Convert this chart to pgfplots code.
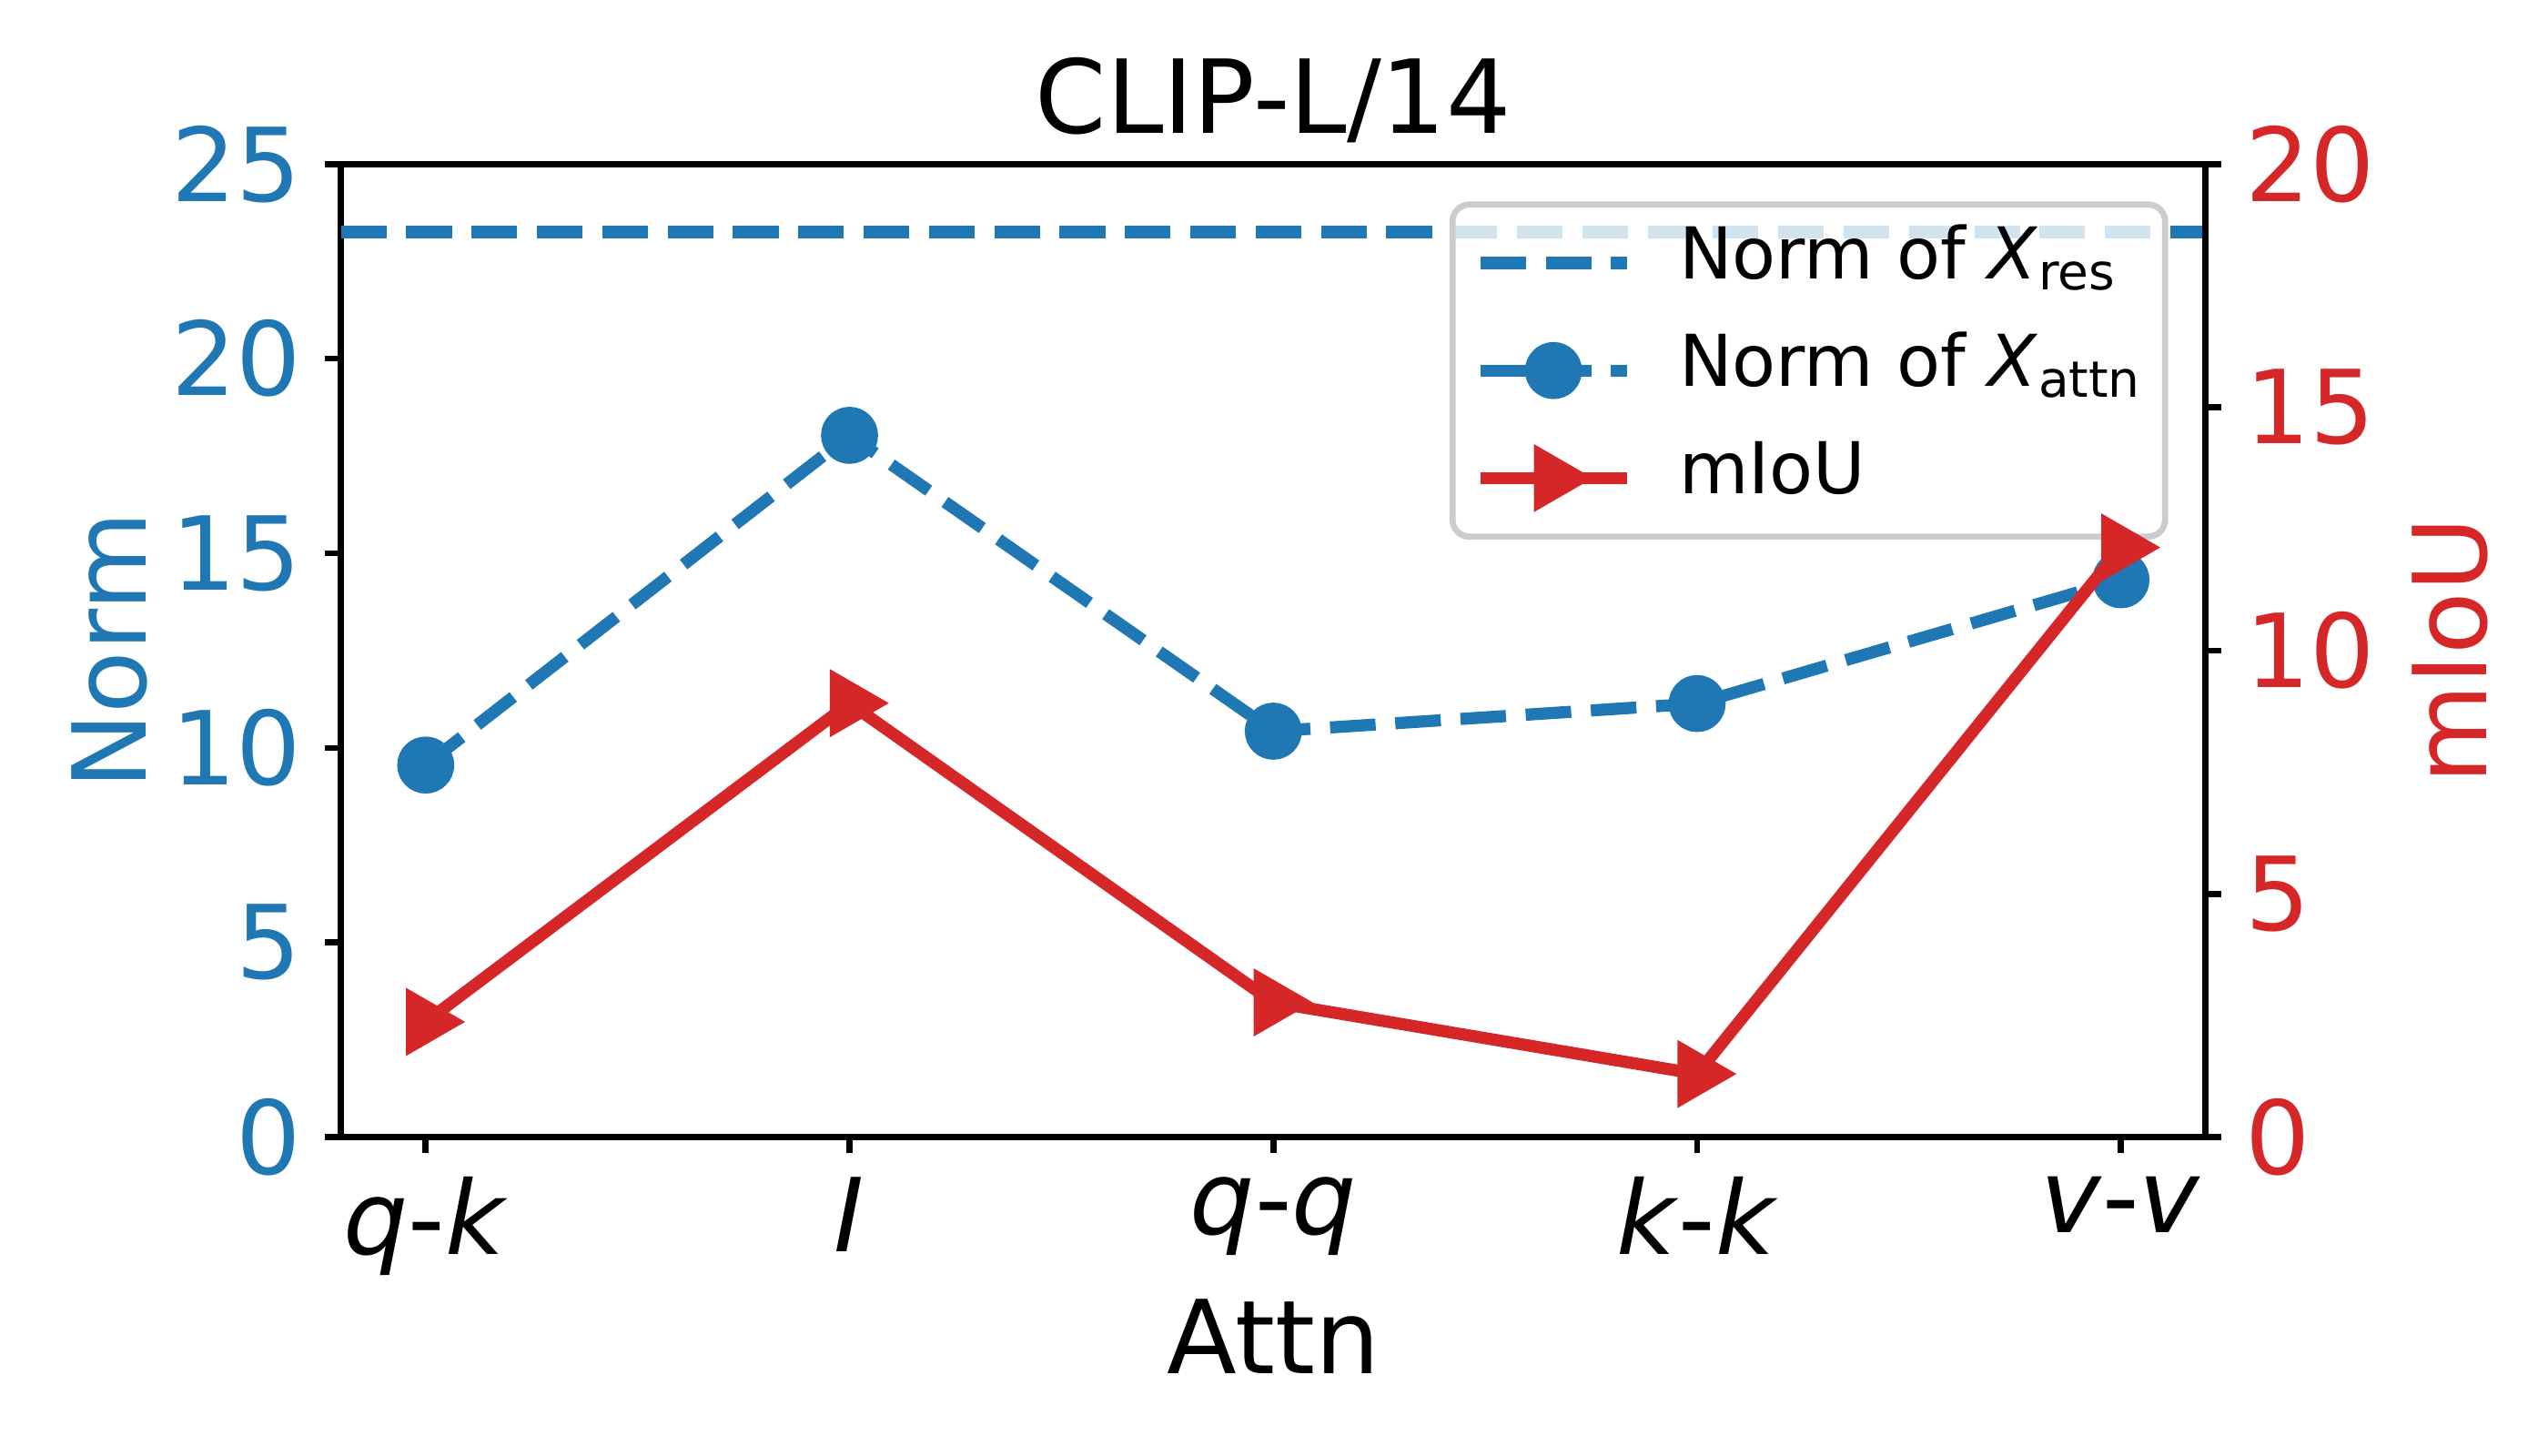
\documentclass[border=0pt]{standalone}
\usepackage{fontspec}
\setmainfont{DejaVu Sans}
\usepackage{pgfplots}
\pgfplotsset{compat=1.18}
\definecolor{tabblue}{HTML}{1F77B4}
\definecolor{tabred}{HTML}{D62728}

\pgfplotsset{
  common/.style={
    scale only axis, width=274pt, height=143pt,
    xmin=-0.2, xmax=4.2,
    tick align=outside, major tick length=2.3pt,
    every tick/.style={black, line width=0.9pt},
    axis line style={line width=0.9pt},
    /pgf/number format/assume math mode=true,
    tick label style={font=\fontsize{15}{18}\selectfont},
    label style={font=\fontsize{15}{18}\selectfont},
  },
  mydash/.style={dash pattern=on 6.7pt off 2.9pt},
}

\begin{document}
\begin{tikzpicture}
\useasboundingbox (-50.1pt,-46.8pt) rectangle (324.3pt,167.1pt);

% left axis: norms
\begin{axis}[common,
  tick pos=left,
  ymin=0, ymax=25, ytick={0,5,...,25},
  xtick={0,1,2,3,4},
  xticklabels={{\textit{q}-\textit{k}}, {\textit{I}}, {\textit{q}-\textit{q}}, {\textit{k}-\textit{k}}, {\textit{v}-\textit{v}}},
  yticklabel style={text=tabblue},
  ylabel={Norm},
  ylabel style={text=tabblue, at={(axis description cs:-0.124,0.5)}, anchor=center},
  xlabel={Attn},
  xlabel style={at={(axis description cs:0.5,0)}, anchor=base, yshift=-34.7pt},
  title={CLIP-L/14},
  title style={font=\fontsize{15}{18}\selectfont, at={(axis description cs:0.5,1)}, anchor=base, yshift=-1.5pt},
  legend image code/.code={\draw[mark repeat=2,mark phase=2] plot coordinates {(0pt,0pt) (10.75pt,0pt) (21.5pt,0pt)};},
  legend cell align=left,
  legend style={at={(axis description cs:1,1)}, anchor=north east, xshift=-5.5pt, yshift=-5.5pt,
    font=\fontsize{10.5}{12.6}\selectfont,
    draw=black!20, line width=0.9pt, rounded corners=2.5pt,
    fill=white, fill opacity=0.8, text opacity=1,
    inner xsep=3.2pt, inner ysep=3.3pt,
    nodes={inner sep=0pt, text height=7.6pt, text depth=3pt},
    column sep=6.8pt, row sep=5.2pt},
  legend image post style={opacity=1},
]
\addplot[tabblue, line width=1.78pt, mydash] coordinates {(-0.2,23.25) (4.2,23.25)};
\addlegendentry{Norm of \textit{X}\textsubscript{res}}
\addplot[tabblue, line width=1.78pt, mydash, mark=*, mark size=3.3pt, mark options={solid}] coordinates {
  (0,9.56) (1,18.03) (2,10.43) (3,11.14) (4,14.32)
};
\addlegendentry{Norm of \textit{X}\textsubscript{attn}}
\addlegendimage{tabred, line width=1.78pt, mark=triangle*, mark size=4pt, mark options={solid, rotate=-90}}
\addlegendentry{mIoU}
\end{axis}

% right axis: mIoU
\begin{axis}[common,
  axis y line*=right, axis x line=none,
  ymin=0, ymax=20, ytick={0,5,...,20}, xtick=\empty,
  yticklabel style={text=tabred},
  ylabel={mIoU},
  ylabel style={text=tabred, at={(axis description cs:1.131,0.5)}, anchor=center},
]
\addplot[tabred, line width=1.78pt, mark=triangle*, mark size=4pt, mark options={solid, rotate=-90}] coordinates {
  (0,2.37) (1,8.92) (2,2.77) (3,1.30) (4,12.12)
};
\end{axis}
\end{tikzpicture}
\end{document}
